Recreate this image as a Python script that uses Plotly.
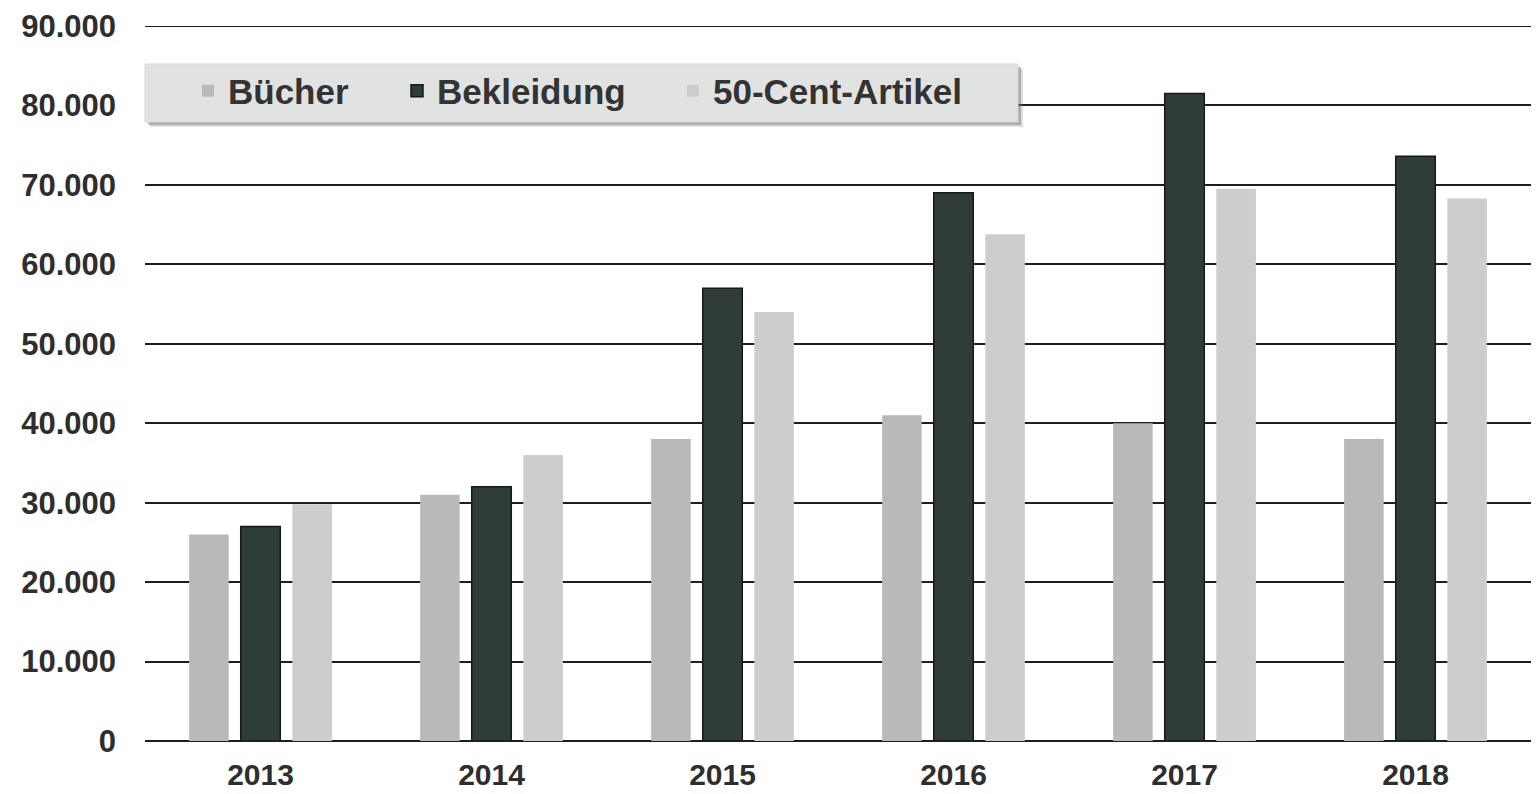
import plotly.graph_objects as go

years = ["2013", "2014", "2015", "2016", "2017", "2018"]
buecher = [26000, 31000, 38000, 41000, 40000, 38000]
bekleidung = [27000, 32000, 57000, 69000, 81500, 73600]
cent50 = [29800, 36000, 54000, 63800, 69500, 68300]
series_names = ["Bücher", "Bekleidung", "50-Cent-Artikel"]
y_ticks = [0, 10000, 20000, 30000, 40000, 50000, 60000, 70000, 80000, 90000]

W, H = 1539, 794
ML, MR, MT, MB = 145, 8, 26, 53
PW, PH = W - ML - MR, H - MT - MB

def px_x(p):
    return (p - ML) / PW

def px_y(p):
    return (H - MB - p) / PH

FONT = "Arial, 'Liberation Sans', sans-serif"
TXT = "#2e2e2e"
GRID = "#1e1e1e"

fig = go.Figure()
fig.add_trace(go.Bar(x=years, y=buecher, name=series_names[0],
                     marker=dict(color="#b9b9b9", line=dict(width=0)),
                     legendwidth=164))
fig.add_trace(go.Bar(x=years, y=bekleidung, name=series_names[1],
                     marker=dict(color="#2f3c39", line=dict(color="#151a19", width=1.5)),
                     legendwidth=231))
fig.add_trace(go.Bar(x=years, y=cent50, name=series_names[2],
                     marker=dict(color="#cdcdcd", line=dict(width=0)),
                     legendwidth=262))

shapes = []
# top gridline (plotly omits the grid line at the range edge)
shapes.append(dict(type="line", xref="paper", yref="y", layer="below",
                   x0=0, x1=1, y0=y_ticks[-1], y1=y_ticks[-1],
                   line=dict(color=GRID, width=2)))
# legend box (shadow + panel)
for off, col in [(5, "rgba(120,120,120,0.25)"), (3, "rgba(110,110,110,0.45)")]:
    shapes.append(dict(type="rect", xref="paper", yref="paper", layer="above",
                       x0=px_x(145 + off), x1=px_x(1018 + off),
                       y0=px_y(122 + off), y1=px_y(64 + off),
                       fillcolor=col, line=dict(width=0)))
shapes.append(dict(type="rect", xref="paper", yref="paper", layer="above",
                   x0=px_x(145), x1=px_x(1018), y0=px_y(122), y1=px_y(64),
                   fillcolor="#e0e3e2", line=dict(color="#d2d5d4", width=1)))

fig.update_layout(
    width=W, height=H,
    margin=dict(l=ML, r=MR, t=MT, b=MB, pad=0, autoexpand=False),
    paper_bgcolor="white", plot_bgcolor="white",
    separators=",.",
    barmode="group", bargap=0.33, bargroupgap=0.233,
    font=dict(family=FONT, color=TXT, size=30, weight="bold"),
    shapes=shapes,
    showlegend=True,
    legend=dict(orientation="h", x=px_x(188), xanchor="left",
                y=px_y(91), yanchor="middle",
                bgcolor="rgba(0,0,0,0)", borderwidth=0,
                font=dict(family=FONT, size=35, color="#333333", weight="bold"),
                traceorder="normal"),
    xaxis=dict(showgrid=False, showline=False, ticks="", zeroline=False,
               automargin=False,
               tickfont=dict(family=FONT, size=30, color=TXT, weight="bold"),
               ticklabelstandoff=13),
    yaxis=dict(range=[0, 90000], tickvals=y_ticks, tickformat=",d",
               automargin=False,
               showgrid=True, gridcolor=GRID, gridwidth=2,
               zeroline=True, zerolinecolor=GRID, zerolinewidth=2,
               showline=False, ticks="",
               tickfont=dict(family=FONT, size=31, color=TXT, weight="bold"),
               ticklabelstandoff=28),
)

fig.write_html("out.html")
